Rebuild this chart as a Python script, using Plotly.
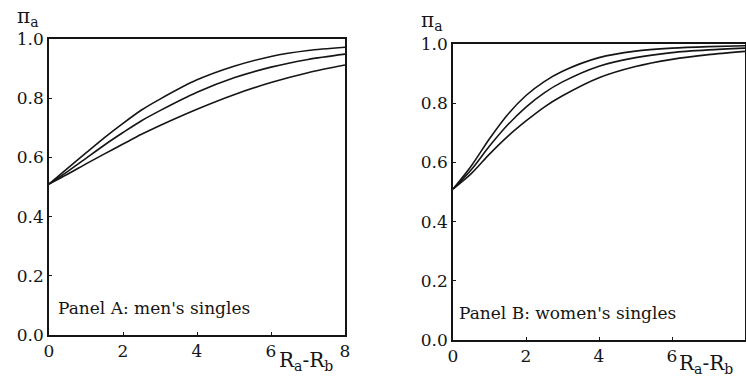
import plotly.graph_objects as go

W, H = 746, 378

# ---- data ----
x_a = [0, 0.5, 1, 1.5, 2, 2.5, 3, 4, 5, 6, 7, 8]
a_top = [0.51, 0.563, 0.615, 0.667, 0.715, 0.76, 0.797, 0.862, 0.908, 0.941, 0.961, 0.972]
a_mid = [0.51, 0.552, 0.597, 0.642, 0.684, 0.724, 0.758, 0.82, 0.869, 0.905, 0.931, 0.949]
a_bot = [0.51, 0.543, 0.578, 0.612, 0.645, 0.678, 0.708, 0.763, 0.812, 0.853, 0.886, 0.912]

x_b = [0, 0.5, 1, 1.5, 2, 2.5, 3, 4, 5, 6, 7, 8]
b_top = [0.51, 0.588, 0.68, 0.762, 0.826, 0.873, 0.908, 0.954, 0.976, 0.986, 0.991, 0.994]
b_mid = [0.51, 0.575, 0.655, 0.727, 0.787, 0.835, 0.872, 0.925, 0.954, 0.971, 0.98, 0.986]
b_bot = [0.51, 0.562, 0.628, 0.688, 0.74, 0.787, 0.825, 0.886, 0.924, 0.948, 0.964, 0.975]

x_ticks = [0, 2, 4, 6, 8]
y_ticks = [0.0, 0.2, 0.4, 0.6, 0.8, 1.0]
panel_labels = ["Panel A: men's singles", "Panel B: women's singles"]

FONT = "DejaVu Serif"
INK = "#151515"

def px(x):
    return x / W

def py(y):
    return 1 - y / H

fig = go.Figure()
for ys in (a_top, a_mid, a_bot):
    fig.add_trace(go.Scatter(x=x_a, y=ys, mode="lines", line=dict(color=INK, width=1.6, shape="spline", smoothing=0.8),
                             xaxis="x", yaxis="y", showlegend=False, hoverinfo="skip"))
for ys in (b_top, b_mid, b_bot):
    fig.add_trace(go.Scatter(x=x_b, y=ys, mode="lines", line=dict(color=INK, width=1.6, shape="spline", smoothing=0.8),
                             xaxis="x2", yaxis="y2", showlegend=False, hoverinfo="skip"))

axis_common = dict(showline=True, mirror=True, linecolor=INK, linewidth=1.6, showgrid=False, zeroline=False,
                   automargin=False, ticks="inside", ticklen=3, tickcolor=INK,
                   tickfont=dict(family=FONT, size=17, color=INK))

fig.update_layout(
    template="none",
    width=W, height=H, autosize=False,
    margin=dict(l=0, r=0, t=0, b=0, pad=0),
    paper_bgcolor="white", plot_bgcolor="white",
    font=dict(family=FONT, color=INK),
    xaxis=dict(domain=[px(49), px(345)], range=[0, 8], tickvals=x_ticks, anchor="y", **axis_common),
    yaxis=dict(domain=[py(335), py(39)], range=[0, 1], tickvals=y_ticks, tickformat=".1f", anchor="x", **axis_common),
    xaxis2=dict(domain=[px(453), px(745)], range=[0, 8], tickvals=x_ticks, anchor="y2", **axis_common),
    yaxis2=dict(domain=[py(340), py(44)], range=[0, 1], tickvals=y_ticks, tickformat=".1f", anchor="x2", **axis_common),
)

sym_font = dict(family=FONT, size=20, color=INK)
# y-axis symbols
fig.add_annotation(x=px(15), y=py(2), xref="paper", yref="paper", text="π<sub>a</sub>",
                   showarrow=False, xanchor="left", yanchor="top", font=sym_font)
fig.add_annotation(x=px(419), y=py(6), xref="paper", yref="paper", text="π<sub>a</sub>",
                   showarrow=False, xanchor="left", yanchor="top", font=sym_font)
# x-axis titles
fig.add_annotation(x=px(277), y=py(361), xref="paper", yref="paper", text="R<sub>a</sub>-R<sub>b</sub>",
                   showarrow=False, xanchor="left", yanchor="middle", font=sym_font)
fig.add_annotation(x=px(677), y=py(364), xref="paper", yref="paper", text="R<sub>a</sub>-R<sub>b</sub>",
                   showarrow=False, xanchor="left", yanchor="middle", font=sym_font)
# panel labels
ann_font = dict(family=FONT, size=17, color=INK)
fig.add_annotation(x=px(56), y=py(308), xref="paper", yref="paper", text=panel_labels[0],
                   showarrow=False, xanchor="left", yanchor="middle", font=ann_font)
fig.add_annotation(x=px(457), y=py(313), xref="paper", yref="paper", text=panel_labels[1],
                   showarrow=False, xanchor="left", yanchor="middle", font=ann_font)

fig.write_html("out.html")
